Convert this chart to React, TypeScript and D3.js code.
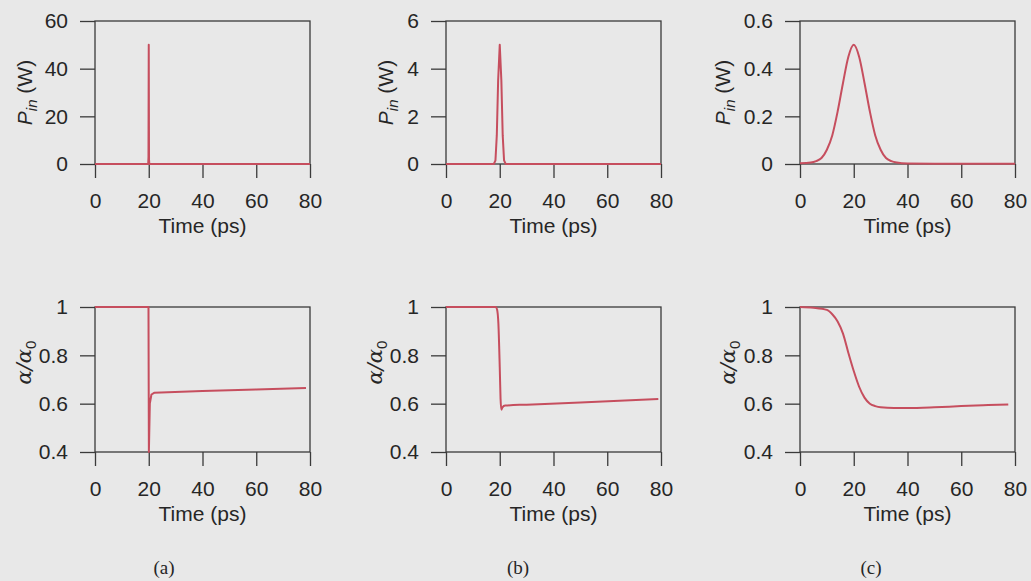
import React, { useEffect, useRef } from "react";
import * as d3 from "d3";

// ---- data ----
const X_TICKS = [0, 20, 40, 60, 80];

const TA_TOP = [0, 19.8, 19.9, 20, 20.1, 20.2, 80];
const PA_TOP = [0, 0, 3, 50, 2, 0, 0];

const TB_TOP = [0, 17.8, 18.4, 18.9, 19.4, 20, 20.6, 21.1, 21.6, 22.2, 80];
const PB_TOP = [0, 0, 0.15, 1.2, 3.5, 5, 3.5, 1.2, 0.15, 0, 0];

const TC_TOP = [0, 4, 6, 8, 10, 12, 14, 16, 18, 20, 22, 24, 26, 28, 30, 32, 34, 36, 40, 50, 80];
const PC_TOP = [0.003, 0.006, 0.012, 0.025, 0.06, 0.12, 0.22, 0.34, 0.45, 0.5, 0.45, 0.34, 0.22, 0.12, 0.06, 0.025, 0.012, 0.006, 0.002, 0.001, 0.001];

const TA_BOT = [0, 19.9, 20.05, 20.4, 21, 22, 40, 60, 78.5];
const AA_BOT = [1, 1, 0.4, 0.6, 0.638, 0.645, 0.652, 0.659, 0.665];

const TB_BOT = [0, 18.5, 19, 19.5, 20, 20.3, 20.6, 21, 22, 30, 50, 79];
const AB_BOT = [1, 1, 0.99, 0.93, 0.75, 0.62, 0.575, 0.585, 0.592, 0.596, 0.605, 0.619];

const TC_BOT = [0, 5, 10, 12, 14, 16, 18, 20, 22, 24, 26, 28, 30, 35, 40, 50, 60, 70, 77.5];
const AC_BOT = [1, 0.997, 0.988, 0.97, 0.94, 0.89, 0.81, 0.735, 0.67, 0.625, 0.6, 0.59, 0.585, 0.582, 0.582, 0.585, 0.59, 0.594, 0.597];

const TOP_TICKS_A = [0, 20, 40, 60];
const TOP_TICKS_B = [0, 2, 4, 6];
const TOP_TICKS_C = [0, 0.2, 0.4, 0.6];
const BOT_TICKS = [0.4, 0.6, 0.8, 1];

const CAPTIONS = ["(a)", "(b)", "(c)"];

// ---- layout ----
const W = 1031;
const H = 581;
const LEFTS = [95, 446, 800];
const PW = 215;
const TOP_ROW = { y0: 21, y1: 164 };
const BOT_ROW = { y0: 307, y1: 452 };
const LINE_COLOR = "#c64e5e";
const AXIS_COLOR = "#3a3a3a";
const FONT = "'Liberation Sans', Arial, Helvetica, sans-serif";

type Panel = {
  left: number;
  row: { y0: number; y1: number };
  t: number[];
  v: number[];
  yDomain: [number, number];
  yTicks: number[];
  kind: "P" | "A";
  labelOffset: number;
  curve: d3.CurveFactory;
};

const PANELS: Panel[] = [
  { left: LEFTS[0], row: TOP_ROW, t: TA_TOP, v: PA_TOP, yDomain: [0, 60], yTicks: TOP_TICKS_A, kind: "P", labelOffset: 70, curve: d3.curveLinear },
  { left: LEFTS[1], row: TOP_ROW, t: TB_TOP, v: PB_TOP, yDomain: [0, 6], yTicks: TOP_TICKS_B, kind: "P", labelOffset: 60, curve: d3.curveLinear },
  { left: LEFTS[2], row: TOP_ROW, t: TC_TOP, v: PC_TOP, yDomain: [0, 0.6], yTicks: TOP_TICKS_C, kind: "P", labelOffset: 77, curve: d3.curveMonotoneX },
  { left: LEFTS[0], row: BOT_ROW, t: TA_BOT, v: AA_BOT, yDomain: [0.4, 1], yTicks: BOT_TICKS, kind: "A", labelOffset: 71, curve: d3.curveLinear },
  { left: LEFTS[1], row: BOT_ROW, t: TB_BOT, v: AB_BOT, yDomain: [0.4, 1], yTicks: BOT_TICKS, kind: "A", labelOffset: 71, curve: d3.curveMonotoneX },
  { left: LEFTS[2], row: BOT_ROW, t: TC_BOT, v: AC_BOT, yDomain: [0.4, 1], yTicks: BOT_TICKS, kind: "A", labelOffset: 72, curve: d3.curveMonotoneX },
];

export default function App() {
  const ref = useRef<SVGSVGElement | null>(null);

  useEffect(() => {
    const svg = d3.select(ref.current);
    svg.selectAll("*").remove();

    svg.append("rect").attr("width", W).attr("height", H).attr("fill", "#e8e8e8");

    PANELS.forEach((p, i) => {
      const x = d3.scaleLinear().domain([0, 80]).range([p.left, p.left + PW]);
      const y = d3.scaleLinear().domain(p.yDomain).range([p.row.y1, p.row.y0]);
      const g = svg.append("g");

      const clipId = `clip${i}`;
      g.append("clipPath")
        .attr("id", clipId)
        .append("rect")
        .attr("x", p.left)
        .attr("y", p.row.y0 - 1)
        .attr("width", PW)
        .attr("height", p.row.y1 - p.row.y0 + 2);

      // frame
      g.append("rect")
        .attr("x", p.left)
        .attr("y", p.row.y0)
        .attr("width", PW)
        .attr("height", p.row.y1 - p.row.y0)
        .attr("fill", "none")
        .attr("stroke", AXIS_COLOR)
        .attr("stroke-width", 1.3);

      // axes
      const xa = g
        .append("g")
        .attr("transform", `translate(0,${p.row.y1})`)
        .call(d3.axisBottom(x).tickValues(X_TICKS).tickSize(14).tickSizeOuter(0).tickPadding(15).tickFormat(d3.format("d")));
      const ya = g
        .append("g")
        .attr("transform", `translate(${p.left},0)`)
        .call(
          d3
            .axisLeft(y)
            .tickValues(p.yTicks)
            .tickSize(15)
            .tickSizeOuter(0)
            .tickPadding(12)
            .tickFormat((d) => String(+(+d).toFixed(2)))
        );
      [xa, ya].forEach((a) => {
        a.select(".domain").remove();
        a.selectAll("line").attr("stroke", AXIS_COLOR).attr("stroke-width", 1.3);
        a.selectAll("text").attr("fill", "#262626").attr("font-size", 21).attr("font-family", FONT);
      });

      // line
      const line = d3
        .line<number>()
        .x((_, k) => x(p.t[k]))
        .y((d) => y(d))
        .curve(p.curve);
      g.append("path")
        .attr("d", line(p.v))
        .attr("fill", "none")
        .attr("stroke", LINE_COLOR)
        .attr("stroke-width", 2)
        .attr("stroke-linejoin", "round")
        .attr("clip-path", `url(#${clipId})`);

      // x title
      g.append("text")
        .attr("x", p.left + PW / 2)
        .attr("y", p.row.y1 + 69)
        .attr("text-anchor", "middle")
        .attr("font-size", 21)
        .attr("font-family", FONT)
        .attr("fill", "#262626")
        .text("Time (ps)");

      // y title
      const cx = p.left - p.labelOffset;
      const cy = p.kind === "P" ? (p.row.y0 + p.row.y1) / 2 : (p.row.y0 + p.row.y1) / 2 - 17;
      const yt = g
        .append("text")
        .attr("transform", `translate(${cx},${cy}) rotate(-90)`)
        .attr("text-anchor", "middle")
        .attr("dy", "0.35em")
        .attr("font-size", 21)
        .attr("font-family", FONT)
        .attr("fill", "#262626");
      if (p.kind === "P") {
        yt.append("tspan").attr("font-style", "italic").text("P");
        yt.append("tspan").attr("font-style", "italic").attr("font-size", 15).attr("dy", 5).text("in");
        yt.append("tspan").attr("dy", -5).text(" (W)");
      } else {
        yt.append("tspan").attr("font-family", "'DejaVu Serif', serif").attr("font-style", "italic").text("α/α");
        yt.append("tspan").attr("font-size", 15).attr("dy", 5).text("0");
      }
    });

    // captions
    CAPTIONS.forEach((c, i) => {
      svg
        .append("text")
        .attr("x", [164, 518, 871][i])
        .attr("y", 574)
        .attr("text-anchor", "middle")
        .attr("font-size", 19)
        .attr("font-family", "'Liberation Serif', 'Times New Roman', serif")
        .attr("fill", "#262626")
        .text(c);
    });
  }, []);

  return (
    <svg
      ref={ref}
      width={W}
      height={H}
      style={{ position: "absolute", left: 0, top: 0, display: "block" }}
    />
  );
}
